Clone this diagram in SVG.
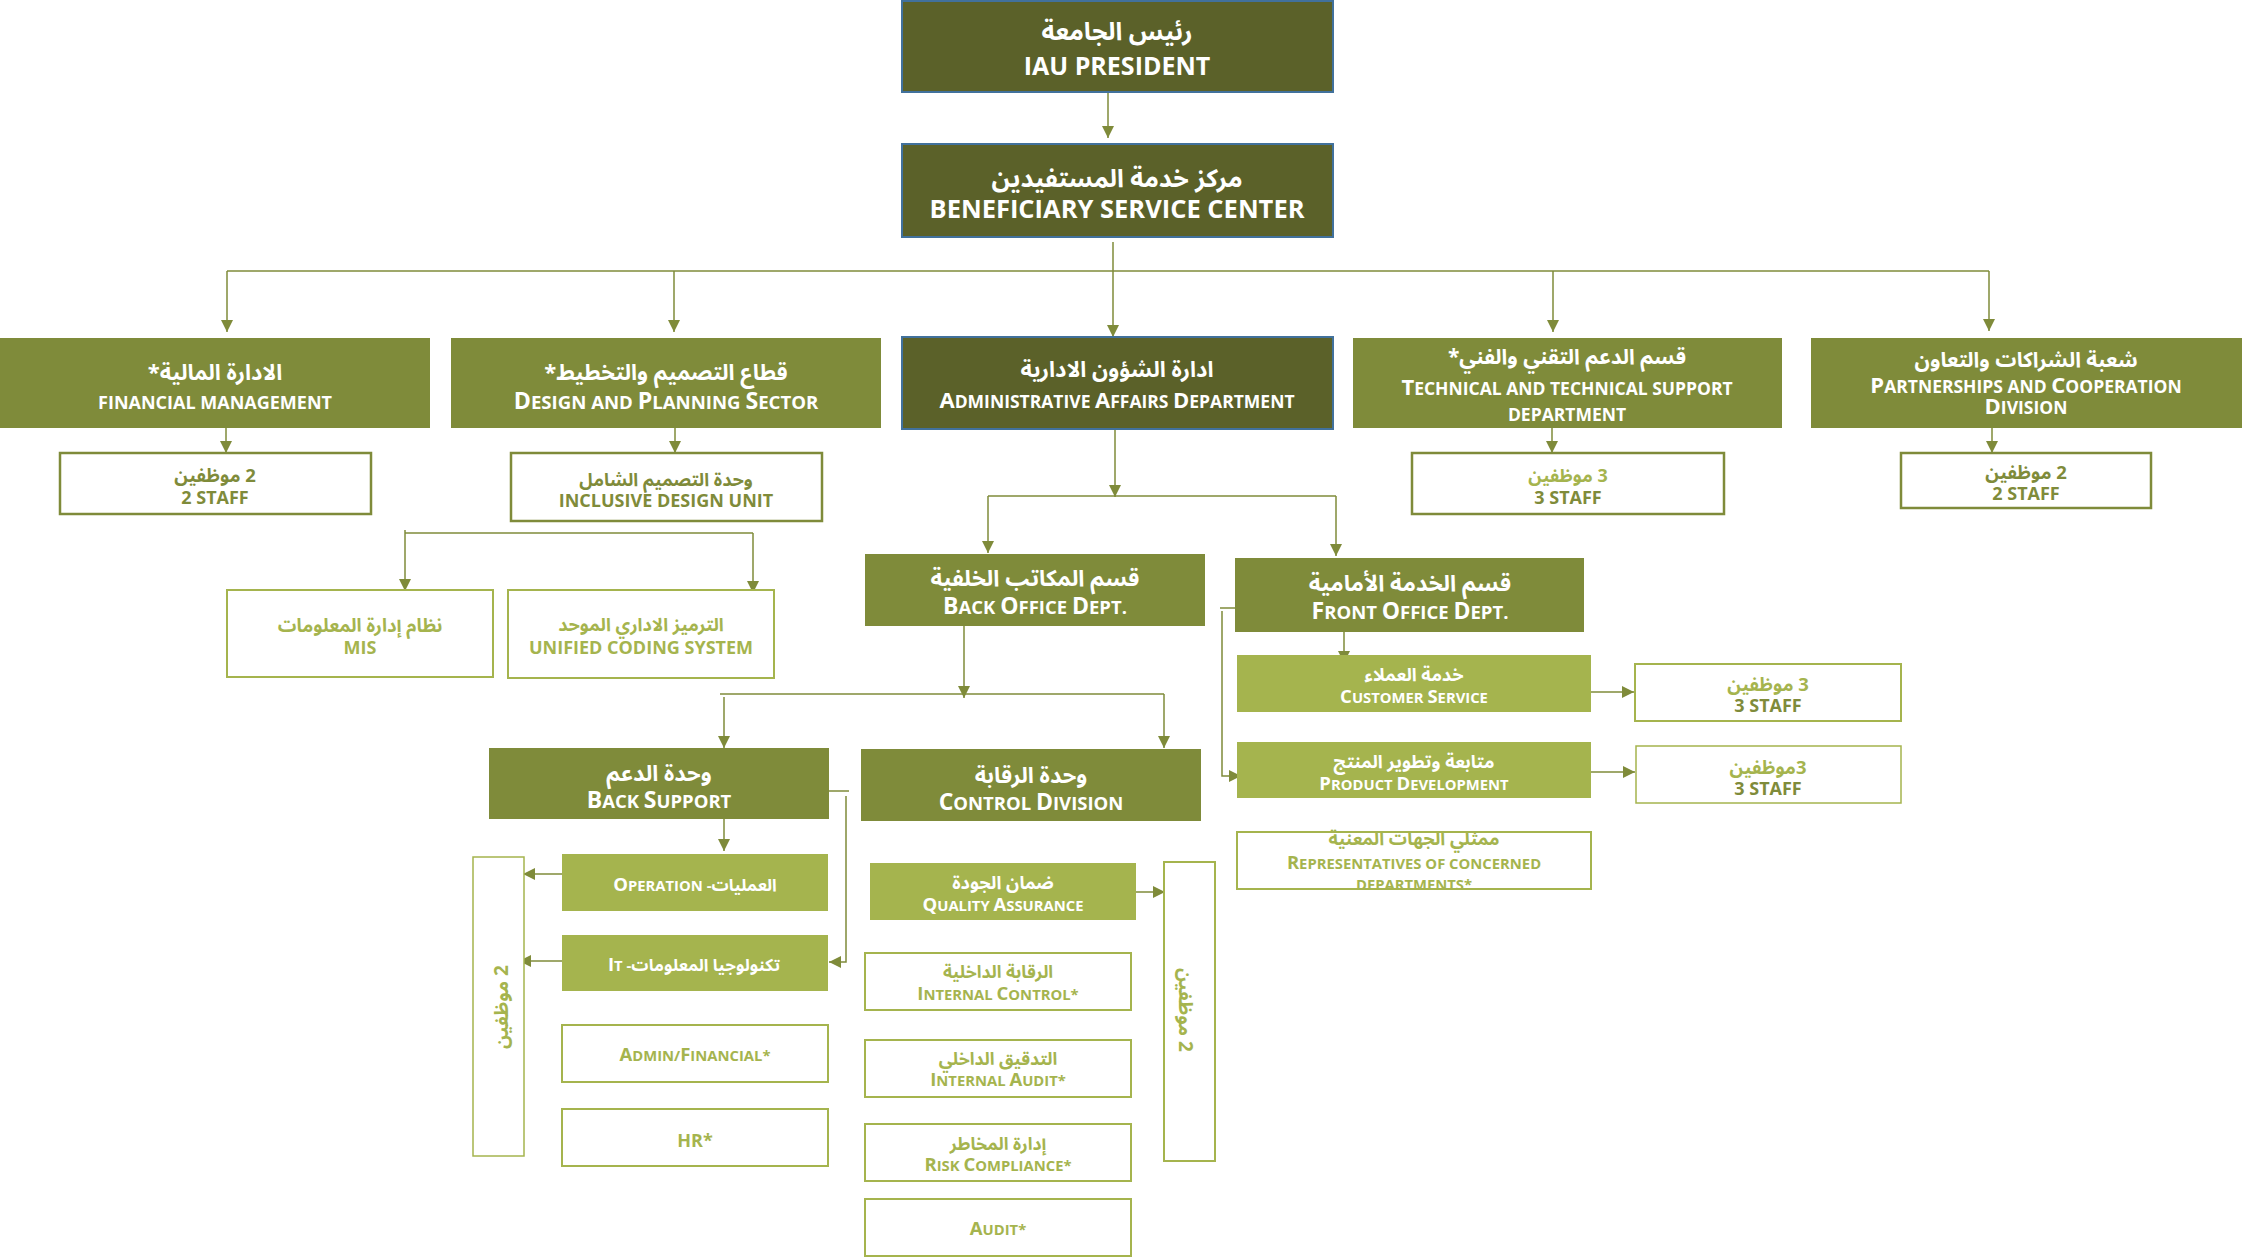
<svg xmlns="http://www.w3.org/2000/svg" width="2242" height="1257" viewBox="0 0 2242 1257">
<defs>
<marker id="ah" markerUnits="userSpaceOnUse" markerWidth="13" markerHeight="13" refX="12" refY="6" orient="auto">
<path d="M0,0 L12,6 L0,12 z" fill="#7f8b3a"/>
</marker>
<style>
text{font-family:"Open Sans","Noto Sans Arabic","DejaVu Sans",sans-serif;font-weight:bold;text-anchor:middle}
.cb{dominant-baseline:central}
.ar{direction:rtl;dominant-baseline:central}
.w{fill:#ffffff}
.o{fill:#7f8b3a}
.g{fill:#a5b44e}
.s1{font-size:17.5px}
.s1 .k{font-size:22px}
.s1b{font-size:18.6px}
.s1b .k{font-size:23.2px}
.s2{font-size:18.5px}
.s2 .k{font-size:23px}
.s3{font-size:14.8px}
.s3 .k{font-size:18.5px}
.s3 .a{font-size:17px}
.dark{fill:#5b6129;stroke:#41719c;stroke-width:2}
.mid{fill:#7f8b3a}
.lt{fill:#a5b44e}
.ob{fill:#fff;stroke:#7f8b3a;stroke-width:2.5}
.lb{fill:#fff;stroke:#a5b44e;stroke-width:2}
.lbt{fill:#fff;stroke:#a5b44e;stroke-width:1.5}
.c{fill:none;stroke:#7f8b3a;stroke-width:1.5}
.ca{fill:none;stroke:#7f8b3a;stroke-width:1.5;marker-end:url(#ah)}
</style>
</defs>
<rect width="2242" height="1257" fill="#ffffff"/>

<g id="connectors">
<path class="ca" d="M1108,92 V138"/>
<path class="c" d="M1113,242 V271"/>
<path class="c" d="M227,271 H1989"/>
<path class="ca" d="M227,271 V332"/>
<path class="ca" d="M674,271 V332"/>
<path class="ca" d="M1113,271 V337"/>
<path class="ca" d="M1553,271 V332"/>
<path class="ca" d="M1989,271 V331"/>
<path class="ca" d="M226,428 V453"/>
<path class="ca" d="M675,428 V453"/>
<path class="ca" d="M1552,428 V453"/>
<path class="ca" d="M1992,428 V453"/>
<path class="c" d="M405,533 H753"/>
<path class="ca" d="M405,530 V591"/>
<path class="ca" d="M753,533 V593"/>
<path class="ca" d="M1115,429 V497"/>
<path class="c" d="M988,496 H1336"/>
<path class="ca" d="M988,496 V553"/>
<path class="ca" d="M1336,496 V556"/>
<path class="ca" d="M964,626 V698"/>
<path class="c" d="M720,694 H1164"/>
<path class="ca" d="M724,697 V748"/>
<path class="ca" d="M1164,694 V748"/>
<path class="ca" d="M724,819 V851"/>
<path class="c" d="M829,791 H849"/>
<path class="ca" d="M846,796 V962 H829"/>
<path class="ca" d="M562,874 H523"/>
<path class="ca" d="M562,961 H519"/>
<path class="ca" d="M1136,892 H1165"/>
<path class="ca" d="M1344,632 V663"/>
<path class="c" d="M1235,608 H1220"/>
<path class="ca" d="M1222,611 V776 H1241"/>
<path class="ca" d="M1591,692 H1634"/>
<path class="ca" d="M1591,772 H1635"/>
</g>

<g id="president">
<rect class="dark" x="902" y="1" width="431" height="91"/>
<text class="w ar" x="1117" y="30" font-size="25">رئيس الجامعة</text>
<text class="w cb" x="1117" y="65" font-size="25">IAU PRESIDENT</text>
</g>
<g id="beneficiary">
<rect class="dark" x="902" y="144" width="431" height="93"/>
<text class="w ar" x="1117" y="177" font-size="25">مركز خدمة المستفيدين</text>
<text class="w cb" x="1117" y="208" font-size="25.5">BENEFICIARY SERVICE CENTER</text>
</g>

<g id="financial">
<rect class="mid" x="0" y="338" width="430" height="90"/>
<text class="w ar" x="215" y="371" font-size="22">الادارة المالية*</text>
<text class="w cb" x="215" y="402" font-size="18">FINANCIAL MANAGEMENT</text>
</g>
<g id="design">
<rect class="mid" x="451" y="338" width="430" height="90"/>
<text class="w ar" x="666" y="371" font-size="22">قطاع التصميم والتخطيط*</text>
<text class="w s1b" x="666" y="409"><tspan class="k">D</tspan>ESIGN AND <tspan class="k">P</tspan>LANNING <tspan class="k">S</tspan>ECTOR</text>
</g>
<g id="admin">
<rect class="dark" x="902" y="337" width="431" height="92"/>
<text class="w ar" x="1117" y="368" font-size="22">ادارة الشؤون الادارية</text>
<text class="w s1" x="1117" y="408"><tspan class="k">A</tspan>DMINISTRATIVE <tspan class="k">A</tspan>FFAIRS <tspan class="k">D</tspan>EPARTMENT</text>
</g>
<g id="technical">
<rect class="mid" x="1353" y="338" width="429" height="90"/>
<text class="w ar" x="1567" y="356" font-size="21">قسم الدعم التقني والفني*</text>
<text class="w s1" x="1567" y="395"><tspan class="k">T</tspan>ECHNICAL AND TECHNICAL SUPPORT</text>
<text class="w s1" x="1567" y="421">DEPARTMENT</text>
</g>
<g id="partnerships">
<rect class="mid" x="1811" y="338" width="431" height="90"/>
<text class="w ar" x="2026" y="359" font-size="21">شعبة الشراكات والتعاون</text>
<text class="w s1" x="2026" y="393"><tspan class="k">P</tspan>ARTNERSHIPS AND <tspan class="k">C</tspan>OOPERATION</text>
<text class="w s1" x="2026" y="414"><tspan class="k">D</tspan>IVISION</text>
</g>

<g id="fin-staff">
<rect class="ob" x="60" y="453" width="311" height="61"/>
<text class="o ar" x="215" y="474" font-size="18.5">2 موظفين</text>
<text class="o cb" x="215" y="497" font-size="18">2 STAFF</text>
</g>
<g id="inclusive">
<rect class="ob" x="511" y="453" width="311" height="68"/>
<text class="o ar" x="666" y="479" font-size="18">وحدة التصميم الشامل</text>
<text class="o cb" x="666" y="500" font-size="18">INCLUSIVE DESIGN UNIT</text>
</g>
<g id="tech-staff">
<rect class="ob" x="1412" y="453" width="312" height="61"/>
<text class="g ar" x="1568" y="475" font-size="18">3 موظفين</text>
<text class="o cb" x="1568" y="497" font-size="18">3 STAFF</text>
</g>
<g id="part-staff">
<rect class="ob" x="1901" y="453" width="250" height="55"/>
<text class="o ar" x="2026" y="471" font-size="18.5">2 موظفين</text>
<text class="o cb" x="2026" y="493" font-size="18">2 STAFF</text>
</g>

<g id="mis">
<rect class="lb" x="227" y="590" width="266" height="87"/>
<text class="g ar" x="360" y="624" font-size="18.5">نظام إدارة المعلومات</text>
<text class="g cb" x="360" y="647" font-size="18">MIS</text>
</g>
<g id="unified">
<rect class="lb" x="508" y="590" width="266" height="88"/>
<text class="g ar" x="641" y="624" font-size="18">الترميز الاداري الموحد</text>
<text class="g cb" x="641" y="647" font-size="18">UNIFIED CODING SYSTEM</text>
</g>

<g id="back-office">
<rect class="mid" x="865" y="554" width="340" height="72"/>
<text class="w ar" x="1035" y="577" font-size="22.5">قسم المكاتب الخلفية</text>
<text class="w s2" x="1035" y="614"><tspan class="k">B</tspan>ACK <tspan class="k">O</tspan>FFICE <tspan class="k">D</tspan>EPT.</text>
</g>
<g id="front-office">
<rect class="mid" x="1235" y="558" width="349" height="74"/>
<text class="w ar" x="1410" y="582" font-size="22.5">قسم الخدمة الأمامية</text>
<text class="w s2" x="1410" y="619"><tspan class="k">F</tspan>RONT <tspan class="k">O</tspan>FFICE <tspan class="k">D</tspan>EPT.</text>
</g>

<g id="back-support">
<rect class="mid" x="489" y="748" width="340" height="71"/>
<text class="w ar" x="659" y="772" font-size="22">وحدة الدعم</text>
<text class="w s2" x="659" y="808"><tspan class="k">B</tspan>ACK <tspan class="k">S</tspan>UPPORT</text>
</g>
<g id="control">
<rect class="mid" x="861" y="749" width="340" height="72"/>
<text class="w ar" x="1031" y="774" font-size="22">وحدة الرقابة</text>
<text class="w s2" x="1031" y="810"><tspan class="k">C</tspan>ONTROL <tspan class="k">D</tspan>IVISION</text>
</g>

<g id="operation">
<rect class="lt" x="562" y="854" width="266" height="57"/>
<text class="w s3" x="695" y="891"><tspan class="k">O</tspan>PERATION -<tspan class="a">العمليات</tspan></text>
</g>
<g id="it">
<rect class="lt" x="562" y="935" width="266" height="56"/>
<text class="w s3" x="694" y="971"><tspan class="k">I</tspan>T -<tspan class="a">تكنولوجيا المعلومات</tspan></text>
</g>
<g id="admin-financial">
<rect class="lb" x="562" y="1025" width="266" height="57"/>
<text class="g s3" x="695" y="1061"><tspan class="k">A</tspan>DMIN/<tspan class="k">F</tspan>INANCIAL*</text>
</g>
<g id="hr">
<rect class="lb" x="562" y="1109" width="266" height="57"/>
<text class="g cb" x="695" y="1140" font-size="18">HR*</text>
</g>
<g id="staff-left">
<rect class="lbt" x="473" y="857" width="51" height="299"/>
<text class="g ar" transform="translate(501,1007) rotate(-90)" font-size="19">2 موظفين</text>
</g>

<g id="quality">
<rect class="lt" x="870" y="863" width="266" height="57"/>
<text class="w ar" x="1003" y="882" font-size="18">ضمان الجودة</text>
<text class="w s3" x="1003" y="911"><tspan class="k">Q</tspan>UALITY <tspan class="k">A</tspan>SSURANCE</text>
</g>
<g id="internal-control">
<rect class="lb" x="865" y="953" width="266" height="57"/>
<text class="g ar" x="998" y="971" font-size="17.5">الرقابة الداخلية</text>
<text class="g s3" x="998" y="1000"><tspan class="k">I</tspan>NTERNAL <tspan class="k">C</tspan>ONTROL*</text>
</g>
<g id="internal-audit">
<rect class="lb" x="865" y="1040" width="266" height="57"/>
<text class="g ar" x="998" y="1058" font-size="17.5">التدقيق الداخلي</text>
<text class="g s3" x="998" y="1086"><tspan class="k">I</tspan>NTERNAL <tspan class="k">A</tspan>UDIT*</text>
</g>
<g id="risk">
<rect class="lb" x="865" y="1124" width="266" height="57"/>
<text class="g ar" x="998" y="1143" font-size="17.5">إدارة المخاطر</text>
<text class="g s3" x="998" y="1171"><tspan class="k">R</tspan>ISK <tspan class="k">C</tspan>OMPLIANCE*</text>
</g>
<g id="audit">
<rect class="lb" x="865" y="1199" width="266" height="57"/>
<text class="g s3" x="998" y="1235"><tspan class="k">A</tspan>UDIT*</text>
</g>
<g id="staff-right">
<rect class="lb" x="1164" y="862" width="51" height="299"/>
<text class="g ar" transform="translate(1186,1010) rotate(90)" font-size="19">2 موظفين</text>
</g>

<g id="customer-service">
<rect class="lt" x="1237" y="655" width="354" height="57"/>
<text class="w ar" x="1414" y="674" font-size="18">خدمة العملاء</text>
<text class="w s3" x="1414" y="703"><tspan class="k">C</tspan>USTOMER <tspan class="k">S</tspan>ERVICE</text>
</g>
<g id="product-dev">
<rect class="lt" x="1237" y="742" width="354" height="56"/>
<text class="w ar" x="1414" y="761" font-size="18">متابعة وتطوير المنتج</text>
<text class="w s3" x="1414" y="790"><tspan class="k">P</tspan>RODUCT <tspan class="k">D</tspan>EVELOPMENT</text>
</g>
<g id="representatives">
<rect class="lb" x="1237" y="832" width="354" height="57"/>
<text class="g ar" x="1414" y="838" font-size="18">ممثلي الجهات المعنية</text>
<text class="g s3" x="1414" y="869"><tspan class="k">R</tspan>EPRESENTATIVES OF CONCERNED</text>
<text class="g s3" x="1414" y="890">DEPARTMENTS*</text>
</g>
<g id="cs-staff">
<rect class="lb" x="1635" y="664" width="266" height="57"/>
<text class="g ar" x="1768" y="683" font-size="18.5">3 موظفين</text>
<text class="o cb" x="1768" y="705" font-size="18">3 STAFF</text>
</g>
<g id="pd-staff">
<rect class="lbt" x="1636" y="746" width="265" height="57"/>
<text class="g ar" x="1768" y="766" font-size="18.5">3موظفين</text>
<text class="o cb" x="1768" y="788" font-size="18">3 STAFF</text>
</g>
</svg>
